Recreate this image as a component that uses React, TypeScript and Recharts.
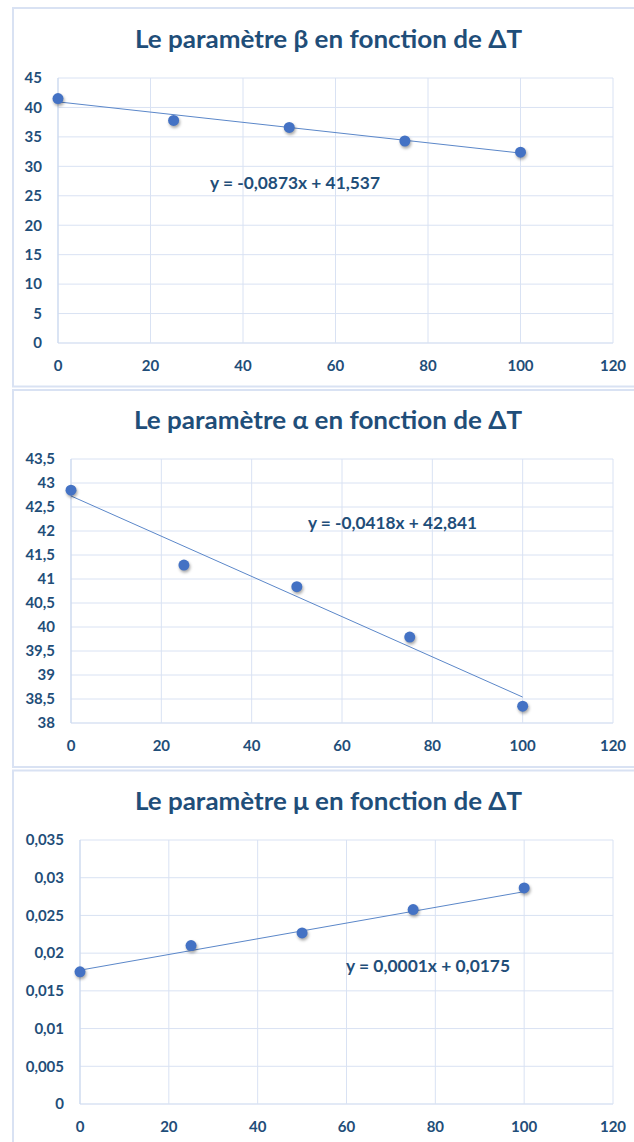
import React from 'react'
import { ScatterChart, Scatter, XAxis, YAxis, CartesianGrid } from 'recharts'

// ΔT values shared by the three charts
const deltaT = [0, 25, 50, 75, 100]
const xTicks = [0, 20, 40, 60, 80, 100, 120]

// beta
const betaValues = [41.5, 37.8, 36.6, 34.3, 32.4]
const betaTrendX = [0, 100]
const betaTrendY = [40.95, 32.25]
const betaTicks = [0, 5, 10, 15, 20, 25, 30, 35, 40, 45]

// alpha
const alphaValues = [42.85, 41.29, 40.84, 39.79, 38.35]
const alphaTrendX = [0, 100]
const alphaTrendY = [42.73, 38.54]
const alphaTicks = [38, 38.5, 39, 39.5, 40, 40.5, 41, 41.5, 42, 42.5, 43, 43.5]

// mu
const muValues = [0.01752, 0.021, 0.02268, 0.02577, 0.02864]
const muTrendX = [0, 100]
const muTrendY = [0.01774, 0.02815]
const muTicks = [0, 0.005, 0.01, 0.015, 0.02, 0.025, 0.03, 0.035]

const titles = [
    'Le paramètre β en fonction de ΔT',
    'Le paramètre α en fonction de ΔT',
    'Le paramètre μ en fonction de ΔT',
]
const equations = ['y = -0,0873x + 41,537', 'y = -0,0418x + 42,841', 'y = 0,0001x + 0,0175']

const FONT = 'Lato, "Open Sans", sans-serif'
const TEXT_COLOR = '#1F4E79'
const GRID = '#D9E2F3'
const POINT = '#4472C4'

const toPoints = (xs: number[], ys: number[]) => xs.map((x, i) => ({ x, y: ys[i] }))
const comma = (v: number) => String(v).replace('.', ',')

const Dot = (props: any) => (
    <circle
        cx={props.cx}
        cy={props.cy}
        r={5.5}
        fill={POINT}
        style={{ filter: 'drop-shadow(1px 2px 1.5px rgba(0,0,0,0.35))' }}
    />
)
const NoDot = () => <g />

interface PanelProps {
    top: number
    left: number
    yTop: number
    yBottom: number
    values: number[]
    trendX: number[]
    trendY: number[]
    yTicks: number[]
}

function Panel({ top, left, yTop, yBottom, values, trendX, trendY, yTicks }: PanelProps) {
    const tickStyle = { fill: TEXT_COLOR, fontSize: 15, fontWeight: 700, fontFamily: FONT }
    return (
        <div style={{ position: 'absolute', left: 0, top }}>
            <ScatterChart width={634} height={380} margin={{ top: yTop, right: 21, bottom: yBottom, left }}>
                <CartesianGrid stroke={GRID} strokeWidth={1} />
                <XAxis
                    type="number"
                    dataKey="x"
                    domain={[0, 120]}
                    ticks={xTicks}
                    height={30}
                    tickSize={0}
                    tickMargin={17}
                    axisLine={{ stroke: GRID }}
                    tick={tickStyle}
                />
                <YAxis
                    type="number"
                    dataKey="y"
                    domain={[yTicks[0], yTicks[yTicks.length - 1]]}
                    ticks={yTicks}
                    width={50}
                    tickSize={0}
                    tickMargin={16}
                    axisLine={{ stroke: '#C9D7EE' }}
                    tick={tickStyle}
                    tickFormatter={comma}
                />
                <Scatter
                    data={toPoints(trendX, trendY)}
                    line={{ stroke: '#5B87C9', strokeWidth: 1 }}
                    shape={NoDot}
                    isAnimationActive={false}
                />
                <Scatter data={toPoints(deltaT, values)} shape={Dot} isAnimationActive={false} />
            </ScatterChart>
        </div>
    )
}

export default function App() {
    return (
        <div style={{ position: 'absolute', left: 0, top: 0, width: 634, height: 1142, background: '#fff', overflow: 'hidden' }}>
            <Panel top={0} left={8} yTop={78} yBottom={7} values={betaValues} trendX={betaTrendX} trendY={betaTrendY} yTicks={betaTicks} />
            <Panel top={380} left={21} yTop={79} yBottom={7} values={alphaValues} trendX={alphaTrendX} trendY={alphaTrendY} yTicks={alphaTicks} />
            <Panel top={760} left={30} yTop={80} yBottom={6} values={muValues} trendX={muTrendX} trendY={muTrendY} yTicks={muTicks} />

            <svg width={634} height={1142} style={{ position: 'absolute', left: 0, top: 0, pointerEvents: 'none' }}>
                <rect x={13} y={8} width={640} height={378.5} fill="none" stroke={GRID} strokeWidth={2} />
                <rect x={13} y={390} width={640} height={377} fill="none" stroke={GRID} strokeWidth={2} />
                <rect x={13} y={770.5} width={640} height={390} fill="none" stroke={GRID} strokeWidth={2} />

                <g fill={TEXT_COLOR} fontFamily={FONT} fontWeight={700}>
                    <text x={135} y={48} fontSize={24} textLength={387} lengthAdjust="spacingAndGlyphs">{titles[0]}</text>
                    <text x={134} y={429} fontSize={24} textLength={388} lengthAdjust="spacingAndGlyphs">{titles[1]}</text>
                    <text x={135} y={810} fontSize={24} textLength={387} lengthAdjust="spacingAndGlyphs">{titles[2]}</text>

                    <text x={210} y={189} fontSize={17} textLength={170} lengthAdjust="spacingAndGlyphs">{equations[0]}</text>
                    <text x={308} y={529} fontSize={17} textLength={169} lengthAdjust="spacingAndGlyphs">{equations[1]}</text>
                    <text x={346} y={972} fontSize={17} textLength={164} lengthAdjust="spacingAndGlyphs">{equations[2]}</text>
                </g>
            </svg>
        </div>
    )
}
